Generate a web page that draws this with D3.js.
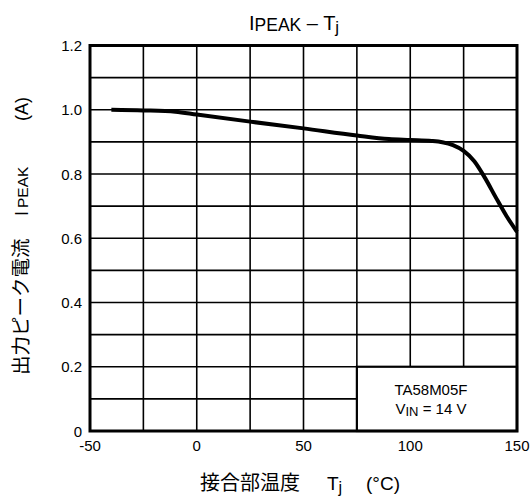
<!DOCTYPE html>
<html><head><meta charset="utf-8">
<script src="https://cdn.jsdelivr.net/npm/d3@7"></script>
<style>
html,body{margin:0;padding:0;background:#fff;}
svg{display:block;}
</style></head>
<body>
<svg id="c" width="531" height="502"></svg>
<script>
// Data
const tempC = [-40, -25, -10, 0, 25, 50, 75, 90, 100, 110, 115, 120, 125, 130, 135, 140, 145, 150];
const ipeakA = [1.0, 0.998, 0.994, 0.985, 0.963, 0.942, 0.920, 0.909, 0.906, 0.903, 0.899, 0.890, 0.872, 0.840, 0.788, 0.728, 0.670, 0.620];
const xTicks = [-50, 0, 50, 100, 150];
const xGrid = [-50, -25, 0, 25, 50, 75, 100, 125, 150];
const yTicks = [0, 0.2, 0.4, 0.6, 0.8, 1.0, 1.2];
const yTickLabels = ["0", "0.2", "0.4", "0.6", "0.8", "1.0", "1.2"];
const xTickLabels = ["-50", "0", "50", "100", "150"];
const yGrid = [0, 0.1, 0.2, 0.3, 0.4, 0.5, 0.6, 0.7, 0.8, 0.9, 1.0, 1.1, 1.2];
const legendBox = {t0: 75, t1: 150, i0: 0, i1: 0.2};
const legendLines = ["TA58M05F", "VIN = 14 V"];

const svg = d3.select("#c");
const latin = "'Liberation Sans', Arial, Helvetica, sans-serif";
const cjk = "'Noto Sans CJK JP', 'Noto Sans', sans-serif";

const x = d3.scaleLinear().domain([-50, 150]).range([90, 517]);
const y = d3.scaleLinear().domain([0, 1.2]).range([431, 45.5]);

// grid
const g = svg.append("g");
g.selectAll("line.vx").data(xGrid).enter().append("line")
  .attr("x1", d => x(d)).attr("x2", d => x(d))
  .attr("y1", y(1.2)).attr("y2", y(0))
  .attr("stroke", "#000").attr("stroke-width", 1.6);
g.selectAll("line.hy").data(yGrid).enter().append("line")
  .attr("x1", x(-50)).attr("x2", x(150))
  .attr("y1", d => y(d)).attr("y2", d => y(d))
  .attr("stroke", "#000").attr("stroke-width", 1.6);

// curve
const pts = tempC.map((t, i) => [t, ipeakA[i]]);
svg.append("path").datum(pts)
  .attr("d", d3.line().x(d => x(d[0])).y(d => y(d[1])).curve(d3.curveMonotoneX))
  .attr("fill", "none").attr("stroke", "#000").attr("stroke-width", 4)
  .attr("stroke-linejoin", "round");

// legend box
svg.append("rect")
  .attr("x", x(legendBox.t0)).attr("y", y(legendBox.i1))
  .attr("width", x(legendBox.t1) - x(legendBox.t0))
  .attr("height", y(legendBox.i0) - y(legendBox.i1))
  .attr("fill", "#fff").attr("stroke", "#000").attr("stroke-width", 2.2);
const lcx = (x(legendBox.t0) + x(legendBox.t1)) / 2 - 6;
svg.append("text").attr("x", lcx).attr("y", 395)
  .attr("text-anchor", "middle").attr("font-family", latin).attr("font-size", 15)
  .text(legendLines[0]);
const vt = svg.append("text").attr("x", lcx).attr("y", 414)
  .attr("text-anchor", "middle").attr("font-family", latin).attr("font-size", 15);
vt.append("tspan").text("V");
vt.append("tspan").attr("font-size", 13).attr("dy", 2).text("IN");
vt.append("tspan").attr("dy", -2).text(" = 14 V");

// frame
svg.append("rect")
  .attr("x", x(-50)).attr("y", y(1.2))
  .attr("width", x(150) - x(-50)).attr("height", y(0) - y(1.2))
  .attr("fill", "none").attr("stroke", "#000").attr("stroke-width", 3);

// tick labels
svg.selectAll("text.xt").data(xTicks).enter().append("text")
  .attr("x", d => x(d)).attr("y", 451)
  .attr("text-anchor", "middle").attr("font-family", latin).attr("font-size", 15)
  .text((d, i) => xTickLabels[i]);
svg.selectAll("text.yt").data(yTicks).enter().append("text")
  .attr("x", 82).attr("y", d => y(d) + 5.5)
  .attr("text-anchor", "end").attr("font-family", latin).attr("font-size", 15)
  .text((d, i) => yTickLabels[i]);

// title
const tt = svg.append("text").attr("x", 249).attr("y", 30)
  .attr("font-family", latin).attr("font-size", 20);
tt.append("tspan").text("I");
tt.append("tspan").attr("font-size", 17.5).attr("dy", 1).text("PEAK");
tt.append("tspan").attr("dy", -1).text(" – T");
tt.append("tspan").attr("font-size", 17).attr("dy", 3).text("j");

// x axis label
svg.append("text").attr("x", 200).attr("y", 490)
  .attr("font-family", cjk).attr("font-size", 20).text("接合部温度");
const xl = svg.append("text").attr("x", 327).attr("y", 490)
  .attr("font-family", latin).attr("font-size", 19);
xl.append("tspan").text("T");
xl.append("tspan").attr("font-size", 16).attr("dy", 3).text("j");
svg.append("text").attr("x", 366).attr("y", 490)
  .attr("font-family", latin).attr("font-size", 19).text("(°C)");

// y axis label (rotated)
const yl = svg.append("g").attr("transform", "translate(28,0) rotate(-90)");
yl.append("text").attr("x", -375).attr("y", 0)
  .attr("font-family", cjk).attr("font-size", 19.5).text("出力ピーク電流");
const yi = yl.append("text").attr("x", -216).attr("y", 0)
  .attr("font-family", latin).attr("font-size", 18);
yi.append("tspan").text("I");
yi.append("tspan").attr("font-size", 15.5).attr("dx", 3).text("PEAK");
yl.append("text").attr("x", -121).attr("y", 0)
  .attr("font-family", latin).attr("font-size", 18).text("(A)");
</script>
</body></html>
